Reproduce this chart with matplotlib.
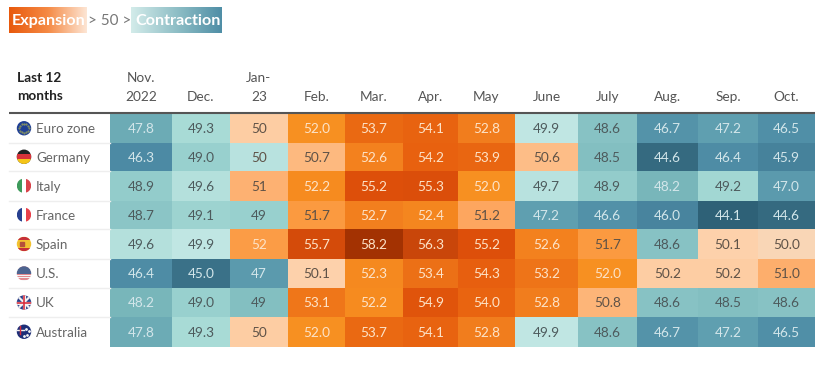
import matplotlib
matplotlib.use('Agg')
import matplotlib.pyplot as plt
from matplotlib.colors import LinearSegmentedColormap, Normalize
from matplotlib.patches import Circle, Rectangle
import numpy as np

plt.rcParams['font.family'] = ['Lato', 'DejaVu Sans']

months = ['Nov.\n2022', 'Dec.', 'Jan-\n23', 'Feb.', 'Mar.', 'Apr.', 'May', 'June', 'July', 'Aug.', 'Sep.', 'Oct.']
countries = ['Euro zone', 'Germany', 'Italy', 'France', 'Spain', 'U.S.', 'UK', 'Australia']

euro = [47.8, 49.3, 50, 52.0, 53.7, 54.1, 52.8, 49.9, 48.6, 46.7, 47.2, 46.5]
germany = [46.3, 49.0, 50, 50.7, 52.6, 54.2, 53.9, 50.6, 48.5, 44.6, 46.4, 45.9]
italy = [48.9, 49.6, 51, 52.2, 55.2, 55.3, 52.0, 49.7, 48.9, 48.2, 49.2, 47.0]
france = [48.7, 49.1, 49, 51.7, 52.7, 52.4, 51.2, 47.2, 46.6, 46.0, 44.1, 44.6]
spain = [49.6, 49.9, 52, 55.7, 58.2, 56.3, 55.2, 52.6, 51.7, 48.6, 50.1, 50.0]
us = [46.4, 45.0, 47, 50.1, 52.3, 53.4, 54.3, 53.2, 52.0, 50.2, 50.2, 51.0]
uk = [48.2, 49.0, 49, 53.1, 52.2, 54.9, 54.0, 52.8, 50.8, 48.6, 48.5, 48.6]
australia = [47.8, 49.3, 50, 52.0, 53.7, 54.1, 52.8, 49.9, 48.6, 46.7, 47.2, 46.5]
rows = [euro, germany, italy, france, spain, us, uk, australia]

# jan-23 labels are rounded, the shading shows the unrounded number
jan_shade = [50.2, 49.7, 50.9, 49.0, 51.6, 47.0, 48.5, 50.2]

# pixel edges of the table
x_edges = [110, 172, 230, 288, 345, 403, 458, 515, 578, 637, 698, 758, 815]
y_edges = [114, 142.5, 171, 200.5, 229, 259, 288, 317, 346.5]

stops = [(44.0, '#2d5f75'), (45.0, '#3a7188'), (46.3, '#4c8aa4'), (47.2, '#5f9fb0'),
         (47.8, '#6cabb5'), (48.2, '#78b6ba'), (48.9, '#93cccb'), (49.3, '#a8dbd6'),
         (49.95, '#c2e7e4'), (50.0, '#fdd5b2'), (50.7, '#fdb97f'), (51.2, '#fda65f'),
         (51.7, '#fb9a40'), (52.0, '#f79020'), (52.7, '#f27f1e'), (53.7, '#ea6912'),
         (54.2, '#e8610f'), (55.2, '#dd4f0a'), (56.3, '#c9460a'), (58.2, '#a33202')]
lo, hi = stops[0][0], stops[-1][0]
cmap = LinearSegmentedColormap.from_list('pmi', [((v - lo) / (hi - lo), c) for v, c in stops], N=1024)
norm = Normalize(lo, hi)

fig = plt.figure(figsize=(8.23, 3.65), dpi=100)
ax = fig.add_axes([0, 0, 1, 1])
ax.set_xlim(0, 823)
ax.set_ylim(365, 0)
ax.axis('off')

vals = np.array(rows, dtype=float)
shade = vals.copy()
shade[:, 2] = jan_shade
ax.pcolormesh(x_edges, y_edges, shade, cmap=cmap, norm=norm, edgecolors='none')


def cell_color(v):
    if v < 48.4:
        return '#d3e6ea'
    if v < 50:
        return '#4d5a5c'
    if v < 51.9:
        return '#5e5247'
    return '#fde3c8'


for i, row in enumerate(rows):
    cy = (y_edges[i] + y_edges[i + 1]) / 2 + 0.8
    for j, v in enumerate(row):
        cx = (x_edges[j] + x_edges[j + 1]) / 2
        label = str(v) if j == 2 else '%.1f' % v
        ax.text(cx, cy, label, ha='center', va='center', fontsize=9.8, color=cell_color(v))

# row rules and header
for y in y_edges[1:-1]:
    ax.plot([9, 110], [y, y], color='#eeeeee', lw=1)
ax.plot([9, 815], [113, 113], color='#555555', lw=1.5, solid_capstyle='butt')

ax.text(17, 78, 'Last 12', fontsize=9.8, fontweight='bold', color='#222222', va='center')
ax.text(17, 96.5, 'months', fontsize=9.8, fontweight='bold', color='#222222', va='center')
for j, m in enumerate(months):
    cx = (x_edges[j] + x_edges[j + 1]) / 2
    parts = m.split('\n')
    ax.text(cx, 97, parts[-1], ha='center', va='center', fontsize=9.8, color='#555555')
    if len(parts) > 1:
        ax.text(cx, 78.5, parts[0], ha='center', va='center', fontsize=9.8, color='#555555')


# flags
def flag(y, bg, bars=(), vert=False):
    clip = Circle((24, y), 7.2, transform=ax.transData)
    ax.add_patch(Circle((24, y), 7.2, color=bg, lw=0))
    for start, size, col in bars:
        if vert:
            r = Rectangle((24 - 7.2 + start, y - 8), size, 16, color=col, lw=0)
        else:
            r = Rectangle((16, y - 7.2 + start), 16, size, color=col, lw=0)
        ax.add_patch(r)
        r.set_clip_path(clip)
    return clip


centers = [(y_edges[i] + y_edges[i + 1]) / 2 for i in range(8)]
flag(centers[0], '#1f3f94')
for a in np.arange(0, 360, 30):
    ax.plot(24 + 4.7 * np.cos(np.radians(a)), centers[0] + 4.7 * np.sin(np.radians(a)), '.', ms=1.1, color='#8f9a60')
flag(centers[1], '#222222', [(4.8, 4.8, '#d8333a'), (9.6, 4.8, '#f5c518')])
flag(centers[2], '#ffffff', [(0, 4.8, '#3d9a5b'), (9.6, 4.8, '#d8434a')], vert=True)
flag(centers[3], '#ffffff', [(0, 4.8, '#27408f'), (9.6, 4.8, '#e8404a')], vert=True)
flag(centers[4], '#f2c230', [(0, 3.6, '#c6303a'), (10.8, 3.6, '#c6303a')])
ax.plot(22, centers[4], 's', ms=2.5, color='#b5503a')
clip = flag(centers[5], '#f4f4f4', [(i * 2.4, 1.2, '#e38a90') for i in range(6)])
r = Rectangle((16, centers[5] - 7.2), 16, 7.2, color='#4d6490', lw=0)
ax.add_patch(r)
r.set_clip_path(clip)

clip = flag(centers[6], '#2b3f86')
for (dx, dy, w, col) in [(1, 1, 2.2, '#f2f2f2'), (1, -1, 2.2, '#f2f2f2'), (0, 1, 3.2, '#f2f2f2'), (1, 0, 3.2, '#f2f2f2'), (0, 1, 1.6, '#d92b3a'), (1, 0, 1.6, '#d92b3a')]:
    line, = ax.plot([24 - 8 * dx, 24 + 8 * dx], [centers[6] - 8 * dy, centers[6] + 8 * dy], color=col, lw=w * 0.72)
    line.set_clip_path(clip)

clip = flag(centers[7], '#1e2f78')
for (dx, dy, w, col) in [(1, 0, 1.4, '#f2f2f2'), (0, 1, 1.4, '#d92b3a')]:
    line, = ax.plot([24 - 4 - 4 * dx, 24 - 4 + 4 * dx], [centers[7] - 2 - 4 * dy, centers[7] - 2 + 4 * dy], color=col, lw=w * 0.72)
    line.set_clip_path(clip)
ax.plot([27, 29, 26, 24], [centers[7] + 3, centers[7] - 1, centers[7] - 3, centers[7] + 4], '.', ms=2, color='#f2f2f2')

for c, y in zip(countries, centers):
    ax.text(36, y + 0.8, c, va='center', fontsize=9.6, color='#666666')

# legend boxes
grad = np.linspace(0, 1, 256).reshape(1, -1)
exp_cmap = LinearSegmentedColormap.from_list('e', ['#e8590c', '#f58a45', '#fde6d5'])
con_cmap = LinearSegmentedColormap.from_list('c', ['#d3ecea', '#8fbfc6', '#4f8ea6'])
ax.imshow(grad, extent=[9, 87, 33, 7], cmap=exp_cmap, aspect='auto', zorder=1)
ax.imshow(grad, extent=[131, 222, 33, 7], cmap=con_cmap, aspect='auto', zorder=1)
ax.set_xlim(0, 823)
ax.set_ylim(365, 0)
ax.text(12, 21, 'Expansion', fontsize=11.6, fontweight='bold', color='#ffffff', va='center', zorder=2)
ax.text(135, 21, 'Contraction', fontsize=11.6, fontweight='bold', color='#ffffff', va='center', zorder=2)
ax.text(109.5, 21, '> 50 >', fontsize=11, color='#777777', va='center', ha='center')

fig.savefig('out.png', dpi=100)
